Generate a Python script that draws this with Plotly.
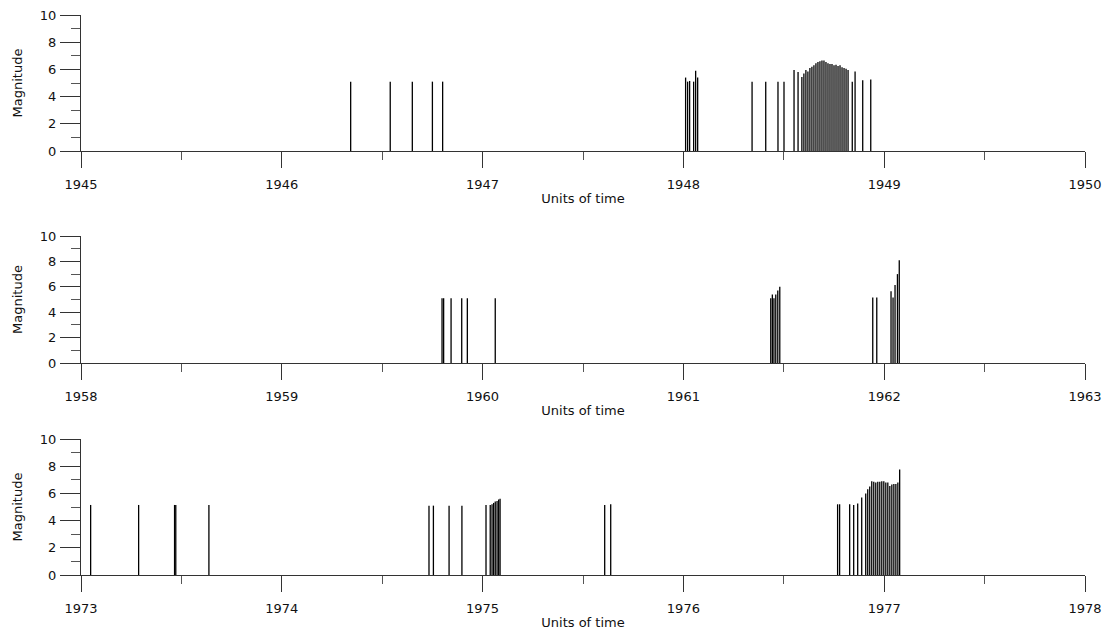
import plotly.graph_objects as go

# ---------------- data ----------------
# Panel 1: 1945-1950
t1 = [1946.343, 1946.540, 1946.650, 1946.750, 1946.801,
      1948.011, 1948.021, 1948.031, 1948.051, 1948.061, 1948.071,
      1948.342, 1948.410, 1948.471, 1948.501, 1948.551, 1948.571,
      1948.590, 1948.600, 1948.610, 1948.620, 1948.630, 1948.640, 1948.650, 1948.660,
      1948.670, 1948.680, 1948.690, 1948.700, 1948.710, 1948.720, 1948.730, 1948.740,
      1948.750, 1948.760, 1948.770, 1948.780, 1948.790, 1948.800, 1948.810, 1948.820,
      1948.841, 1948.855, 1948.893, 1948.933]
m1 = [5.1, 5.1, 5.1, 5.1, 5.1,
      5.4, 5.1, 5.15, 5.1, 5.9, 5.4,
      5.1, 5.1, 5.1, 5.1, 5.95, 5.8,
      5.45, 5.7, 5.95, 5.85, 6.1, 6.2, 6.3, 6.45,
      6.55, 6.6, 6.65, 6.65, 6.55, 6.45, 6.4, 6.4,
      6.3, 6.35, 6.25, 6.3, 6.15, 6.1, 6.05, 5.95,
      5.1, 5.85, 5.2, 5.25]

# Panel 2: 1958-1963
t2 = [1959.798, 1959.806, 1959.843, 1959.896, 1959.924, 1960.063,
      1961.435, 1961.443, 1961.451, 1961.460, 1961.470, 1961.480,
      1961.943, 1961.963, 1962.034, 1962.044, 1962.054, 1962.066, 1962.075]
m2 = [5.1, 5.1, 5.1, 5.1, 5.1, 5.1,
      5.1, 5.4, 5.1, 5.4, 5.7, 6.0,
      5.15, 5.15, 5.65, 5.15, 6.15, 7.0, 8.1]

# Panel 3: 1973-1978
t3 = [1973.048, 1973.287, 1973.466, 1973.472, 1973.637,
      1974.733, 1974.755, 1974.833, 1974.897,
      1975.017, 1975.038, 1975.047, 1975.055, 1975.063, 1975.072, 1975.080, 1975.087,
      1975.608, 1975.638,
      1976.768, 1976.778, 1976.828, 1976.848, 1976.868, 1976.888, 1976.908, 1976.918, 1976.928,
      1976.938, 1976.948, 1976.958, 1976.968, 1976.978, 1976.988, 1976.998,
      1977.008, 1977.018, 1977.028, 1977.038, 1977.048, 1977.058, 1977.068,
      1977.077]
m3 = [5.15, 5.15, 5.15, 5.15, 5.15,
      5.1, 5.1, 5.1, 5.1,
      5.15, 5.15, 5.2, 5.3, 5.4, 5.45, 5.55, 5.6,
      5.15, 5.2,
      5.2, 5.2, 5.2, 5.15, 5.25, 5.7, 6.0, 6.3, 6.5,
      6.9, 6.85, 6.8, 6.85, 6.85, 6.9, 6.9,
      6.8, 6.8, 6.55, 6.65, 6.7, 6.7, 6.8,
      7.75]

x_ranges = [(1945, 1950), (1958, 1963), (1973, 1978)]
y_range = (0, 10)
x_title = "Units of time"
y_title = "Magnitude"

# ---------------- figure ----------------
FONT = "DejaVu Sans"
AXC = "#333333"
TXT = "#111111"
x_domain = [81 / 1111, 1085 / 1111]
H = 634
y_domains = [[1 - 151 / H, 1 - 15 / H],
             [1 - 363 / H, 1 - 236 / H],
             [1 - 575 / H, 1 - 439 / H]]


def spikes(t, m):
    """Vertical stems from 0 to each value, as one line trace."""
    xs, ys = [], []
    for ti, mi in zip(t, m):
        xs += [ti, ti, None]
        ys += [0, mi, None]
    return xs, ys


fig = go.Figure()
layout = {}
for i, (t, m) in enumerate([(t1, m1), (t2, m2), (t3, m3)]):
    sfx = "" if i == 0 else str(i + 1)
    xs, ys = spikes(t, m)
    fig.add_trace(go.Scatter(
        x=xs, y=ys, mode="lines",
        line=dict(color="black", width=1.3),
        xaxis="x" + sfx, yaxis="y" + sfx,
        showlegend=False, hoverinfo="skip"))
    x0, x1 = x_ranges[i]
    layout["xaxis" + sfx] = dict(
        domain=x_domain, range=[x0, x1], anchor="y" + sfx,
        showline=True, linecolor=AXC, linewidth=1.3,
        ticks="outside", ticklen=16, tickwidth=1, tickcolor=AXC,
        tickmode="linear", tick0=x0, dtick=1, tickformat="d",
        minor=dict(ticks="outside", ticklen=8, tickwidth=1, tickcolor="#555555",
                   dtick=0.5, tick0=x0, showgrid=False),
        showgrid=False, zeroline=False,
        tickfont=dict(family=FONT, size=13, color=TXT),
        ticklabelstandoff=5,
        title=dict(text=x_title, font=dict(family=FONT, size=13, color=TXT),
                   standoff=3),
        automargin=False, fixedrange=True)
    layout["yaxis" + sfx] = dict(
        domain=y_domains[i], range=list(y_range), anchor="x" + sfx,
        showline=True, linecolor=AXC, linewidth=1,
        ticks="outside", ticklen=20, tickwidth=1, tickcolor=AXC,
        tickmode="linear", tick0=0, dtick=2,
        minor=dict(ticks="outside", ticklen=9, tickwidth=1, tickcolor="#555555",
                   dtick=1, tick0=0, showgrid=False),
        showgrid=False, zeroline=False,
        tickfont=dict(family=FONT, size=13, color=TXT),
        ticklabelstandoff=1,
        title=dict(text=y_title, font=dict(family=FONT, size=13, color=TXT),
                   standoff=14),
        automargin=False, fixedrange=True)

fig.update_layout(
    width=1111, height=634,
    margin=dict(l=0, r=0, t=0, b=0),
    paper_bgcolor="white", plot_bgcolor="white",
    showlegend=False,
    **layout)

fig.write_html("out.html", config={"displayModeBar": False})
